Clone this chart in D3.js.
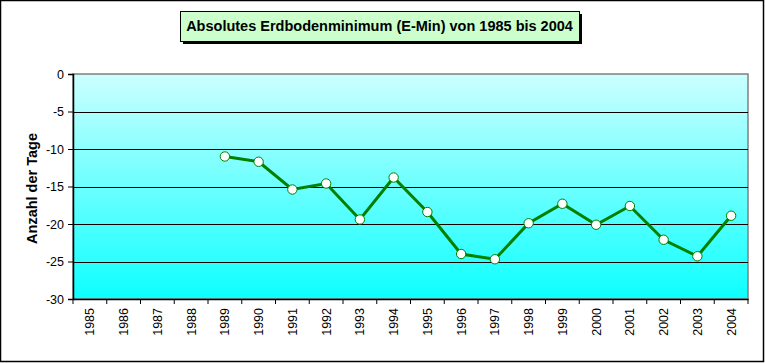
<!DOCTYPE html>
<html>
<head>
<meta charset="utf-8">
<script src="https://cdn.jsdelivr.net/npm/d3@7"></script>
<style>
  body { margin: 0; background: #fff; }
  svg { display: block; font-family: Arial, "Liberation Sans", sans-serif; }
</style>
</head>
<body>
<div id="chart"></div>
<script>
// Data
var years = ['1985', '1986', '1987', '1988', '1989', '1990', '1991', '1992', '1993', '1994',
  '1995', '1996', '1997', '1998', '1999', '2000', '2001', '2002', '2003', '2004'];
var values = [null, null, null, null, -11.0, -11.7, -15.4, -14.6, -19.4, -13.8,
  -18.4, -24.0, -24.7, -19.9, -17.3, -20.1, -17.6, -22.1, -24.3, -18.9];
var yTicks = [0, -5, -10, -15, -20, -25, -30];

var chart_width = 765;
var chart_height = 363;
var plot = { left: 73, top: 74, right: 748, bottom: 299 };

var svg = d3.select('#chart')
  .append('svg')
  .attr('width', chart_width)
  .attr('height', chart_height);

// Outer frame
svg.append('rect')
  .attr('x', 0.5).attr('y', 0.5)
  .attr('width', chart_width - 2).attr('height', chart_height - 2)
  .attr('fill', '#fff')
  .attr('stroke', '#000')
  .attr('stroke-width', 1.5);

// Gradient for plot area
var defs = svg.append('defs');
var grad = defs.append('linearGradient')
  .attr('id', 'bg')
  .attr('x1', 0).attr('y1', 0).attr('x2', 0).attr('y2', 1);
grad.append('stop').attr('offset', '0%').attr('stop-color', '#ccffff');
grad.append('stop').attr('offset', '100%').attr('stop-color', '#0dffff');

// Scales
var xScale = d3.scaleBand()
  .domain(years)
  .range([plot.left, plot.right]);

var yScale = d3.scaleLinear()
  .domain([-30, 0])
  .range([plot.bottom, plot.top]);

// Plot background
svg.append('rect')
  .attr('x', plot.left).attr('y', plot.top)
  .attr('width', plot.right - plot.left)
  .attr('height', plot.bottom - plot.top)
  .attr('fill', 'url(#bg)')
  .attr('stroke', '#808080')
  .attr('stroke-width', 1.5);

// Gridlines
svg.append('g')
  .selectAll('line')
  .data(yTicks.filter(d => d !== 0 && d !== -30))
  .enter()
  .append('line')
  .attr('x1', plot.left).attr('x2', plot.right)
  .attr('y1', d => Math.round(yScale(d)) + 0.5)
  .attr('y2', d => Math.round(yScale(d)) + 0.5)
  .attr('stroke', '#000')
  .attr('stroke-width', 1);

// Y axis
var yAxis = svg.append('g')
  .attr('transform', 'translate(' + plot.left + ',0)')
  .call(d3.axisLeft(yScale).tickValues(yTicks).tickSize(5).tickPadding(4)
    .tickFormat(d => d === 0 ? '0' : String(d)));
yAxis.select('.domain').attr('stroke', '#000').attr('stroke-width', 1.5);
yAxis.selectAll('.tick line').attr('stroke', '#000');
yAxis.selectAll('text')
  .attr('font-size', 12.5)
  .attr('font-family', 'Arial, "Liberation Sans", sans-serif')
  .attr('fill', '#000');

// X axis
var xAxis = svg.append('g')
  .attr('transform', 'translate(0,' + plot.bottom + ')')
  .call(d3.axisBottom(xScale).tickSize(0).tickFormat(d => d));
xAxis.select('.domain').attr('stroke', '#000').attr('stroke-width', 1.5);
xAxis.selectAll('text')
  .attr('transform', 'rotate(-90)')
  .attr('x', -9)
  .attr('y', 0)
  .attr('dy', '0.35em')
  .attr('text-anchor', 'end')
  .attr('font-size', 12.5)
  .attr('font-family', 'Arial, "Liberation Sans", sans-serif')
  .attr('fill', '#000');

// Category boundary ticks
xAxis.append('g')
  .selectAll('line')
  .data(d3.range(years.length + 1))
  .enter()
  .append('line')
  .attr('x1', i => plot.left + i * xScale.step())
  .attr('x2', i => plot.left + i * xScale.step())
  .attr('y1', 0).attr('y2', 5)
  .attr('stroke', '#000');

// Series line
var points = years.map((y, i) => ({ year: y, value: values[i] }))
  .filter(d => d.value !== null);

var line = d3.line()
  .x(d => xScale(d.year) + xScale.bandwidth() / 2)
  .y(d => yScale(d.value));

svg.append('path')
  .datum(points)
  .attr('d', line)
  .attr('fill', 'none')
  .attr('stroke', '#008000')
  .attr('stroke-width', 3);

svg.append('g')
  .selectAll('circle')
  .data(points)
  .enter()
  .append('circle')
  .attr('cx', d => xScale(d.year) + xScale.bandwidth() / 2)
  .attr('cy', d => yScale(d.value))
  .attr('r', 4.7)
  .attr('fill', '#fff')
  .attr('stroke', '#008000')
  .attr('stroke-width', 1);

// Y axis title
svg.append('text')
  .attr('transform', 'translate(37,' + ((plot.top + plot.bottom) / 2 + 2) + ') rotate(-90)')
  .attr('text-anchor', 'middle')
  .attr('font-size', 14.5)
  .attr('font-weight', 'bold')
  .text('Anzahl der Tage');

// Title box with shadow
var tb = { x: 180, y: 11, w: 399, h: 30 };
svg.append('rect')
  .attr('x', tb.x + 3).attr('y', tb.y + 3)
  .attr('width', tb.w).attr('height', tb.h)
  .attr('fill', '#000');
svg.append('rect')
  .attr('x', tb.x + 0.5).attr('y', tb.y + 0.5)
  .attr('width', tb.w).attr('height', tb.h)
  .attr('fill', '#ccffcc')
  .attr('stroke', '#000')
  .attr('stroke-width', 1);
svg.append('text')
  .attr('x', tb.x + tb.w / 2)
  .attr('y', tb.y + tb.h / 2 + 5)
  .attr('text-anchor', 'middle')
  .attr('font-size', 14.5)
  .attr('font-weight', 'bold')
  .text('Absolutes Erdbodenminimum (E-Min) von 1985 bis 2004');
</script>
</body>
</html>
